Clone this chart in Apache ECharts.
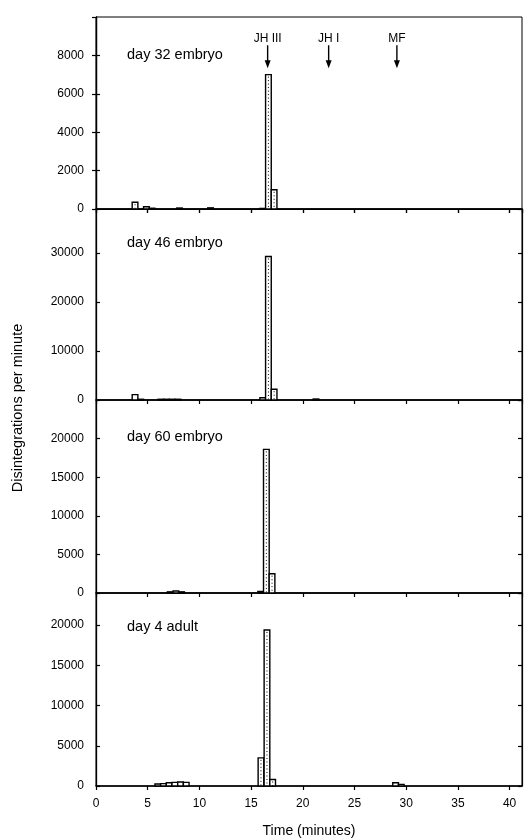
<!DOCTYPE html>
<html>
<head>
<meta charset="utf-8">
<script src="https://cdn.jsdelivr.net/npm/echarts@6/dist/echarts.min.js"></script>
<style>
html,body{margin:0;padding:0;background:#fff;}
#chart{width:524px;height:839px;}
</style>
</head>
<body>
<div id="chart"></div>
<script>
// ---- data (time bins start, minutes; disintegrations per minute) ----
const binWidth = 0.55;
const panelTitles = ['day 32 embryo', 'day 46 embryo', 'day 60 embryo', 'day 4 adult'];
const yMaxes = [10000, 39000, 25000, 24000];
const yIntervals = [2000, 10000, 5000, 5000];

const day32Starts = [3.5, 4.6, 5.15, 7.8, 10.8, 15.85, 16.4, 16.95];
const day32Values = [350, 120, 40, 50, 60, 30, 7000, 1000];

const day46Starts = [3.5, 4.05, 6.0, 6.55, 7.1, 7.65, 15.85, 16.4, 16.95, 21.0];
const day46Values = [1100, 150, 150, 150, 150, 150, 450, 29300, 2200, 200];

const day60Starts = [6.9, 7.45, 8.0, 15.65, 16.2, 16.75];
const day60Values = [150, 250, 150, 200, 18600, 2500];

const day4Starts = [5.7, 6.25, 6.8, 7.35, 7.9, 8.45, 15.68, 16.26, 16.81, 28.7, 29.25];
const day4Values = [250, 300, 400, 450, 500, 450, 3500, 19400, 800, 400, 200];

const arrowTimes = [16.6, 22.5, 29.1];
const arrowTips = [7330, 7330, 7330];
const arrowLabels = ['JH III', 'JH I', 'MF'];

const xMin = 0, xMax = 41.2, xInterval = 5;
// ---------------------------------------------------------------------

const allStarts = [day32Starts, day46Starts, day60Starts, day4Starts];
const allValues = [day32Values, day46Values, day60Values, day4Values];

const FONT = 'Liberation Sans, Arial, sans-serif';
const gridTops = [17, 209, 400, 593];
const gridHeights = [192, 191, 193, 193];

const grids = gridTops.map((t, i) => ({
  left: 96, width: 426, top: t, height: gridHeights[i],
  show: true, borderColor: '#000', borderWidth: 1, backgroundColor: 'transparent'
}));

const plain = v => String(v);

const xAxes = [];
const yAxes = [];
for (let i = 0; i < 4; i++) {
  const isBottom = i === 3;
  xAxes.push({
    type: 'value', gridIndex: i, min: xMin, max: xMax, interval: xInterval,
    position: 'bottom',
    axisLine: { show: true, lineStyle: { color: '#000', width: 1.6 } },
    axisTick: { show: true, inside: false, length: 4, lineStyle: { color: '#000', width: 1.2 } },
    splitLine: { show: false },
    axisLabel: { show: isBottom, showMaxLabel: false, formatter: plain, color: '#000', fontSize: 12, fontFamily: FONT, margin: 12 },
    name: isBottom ? 'Time (minutes)' : '',
    nameLocation: 'middle', nameGap: 38,
    nameTextStyle: { color: '#000', fontSize: 14, fontFamily: FONT }
  });
}
// top frame axis for first panel
xAxes.push({
  type: 'value', gridIndex: 0, min: xMin, max: xMax, interval: xInterval, position: 'top',
  axisLine: { show: true, lineStyle: { color: '#000', width: 1.2 } },
  axisTick: { show: true, inside: true, length: 4, lineStyle: { color: '#000', width: 1.2 } },
  axisLabel: { show: false }, splitLine: { show: false }
});
for (let i = 0; i < 4; i++) {
  yAxes.push({
    type: 'value', gridIndex: i, min: 0, max: yMaxes[i], interval: yIntervals[i], position: 'left',
    axisLine: { show: true, lineStyle: { color: '#000', width: 1.3 } },
    axisTick: { show: true, inside: true, length: 4, lineStyle: { color: '#000', width: 1.2 } },
    splitLine: { show: false },
    axisLabel: { color: '#000', fontSize: 12, fontFamily: FONT, margin: 12, showMaxLabel: false, formatter: plain }
  });
}
for (let i = 0; i < 4; i++) {
  yAxes.push({
    type: 'value', gridIndex: i, min: 0, max: yMaxes[i], interval: yIntervals[i], position: 'right',
    axisLine: { show: true, lineStyle: { color: '#000', width: 1.2 } },
    axisTick: { show: true, inside: true, length: 4, lineStyle: { color: '#000', width: 1.2 } },
    splitLine: { show: false }, axisLabel: { show: false }
  });
}

function renderBar(params, api) {
  const s = api.value(0), v = api.value(1);
  const p0 = api.coord([s, 0]);
  const p1 = api.coord([s + binWidth, v]);
  const x = p0[0], y = p1[1], w = p1[0] - p0[0], h = p0[1] - p1[1];
  const children = [{
    type: 'rect', shape: { x: x, y: y, width: w, height: h },
    style: { fill: '#fff', stroke: '#000', lineWidth: 1.4 }
  }];
  if (h > 6) {
    children.push({
      type: 'line', shape: { x1: x + w / 2, y1: y + 2, x2: x + w / 2, y2: y + h },
      style: { stroke: '#000', lineWidth: 1, lineDash: [1, 2.5] }
    });
  }
  return { type: 'group', children: children };
}

function renderArrow(params, api) {
  const tip = api.coord([api.value(0), api.value(1)]);
  const x = tip[0], y = tip[1];
  return {
    type: 'group',
    children: [
      { type: 'line', shape: { x1: x, y1: y - 23, x2: x, y2: y - 6 }, style: { stroke: '#000', lineWidth: 1.4 } },
      { type: 'polygon', shape: { points: [[x - 3, y - 8], [x + 3, y - 8], [x, y]] }, style: { fill: '#000' } },
      { type: 'text', x: x, y: y - 30, style: { text: arrowLabels[params.dataIndex], textAlign: 'center', textVerticalAlign: 'middle', fill: '#000', font: '12px ' + FONT } }
    ]
  };
}

const series = [];
for (let i = 0; i < 4; i++) {
  series.push({
    type: 'custom', xAxisIndex: i, yAxisIndex: i,
    renderItem: renderBar,
    encode: { x: 0, y: 1 },
    data: allStarts[i].map((s, k) => [s, allValues[i][k]]),
    z: 3
  });
}
series.push({
  type: 'custom', xAxisIndex: 0, yAxisIndex: 0,
  renderItem: renderArrow,
  encode: { x: 0, y: 1 },
  data: arrowTimes.map((t, k) => [t, arrowTips[k]]),
  z: 4
});

const titles = panelTitles.map((t, i) => ({
  text: t, left: 122, top: [42, 230, 424, 614][i],
  textStyle: { color: '#000', fontSize: 14.5, fontWeight: 'normal', fontFamily: FONT }
}));

const chart = echarts.init(document.getElementById('chart'), null, { renderer: 'canvas' });
chart.setOption({
  animation: false,
  backgroundColor: '#fff',
  title: titles,
  grid: grids,
  xAxis: xAxes,
  yAxis: yAxes,
  series: series,
  graphic: [{
    type: 'text', rotation: Math.PI / 2,
    x: 18, y: 408,
    style: { text: 'Disintegrations per minute', fill: '#000', font: '14.5px ' + FONT, textAlign: 'center', textVerticalAlign: 'middle' }
  }]
});
</script>
</body>
</html>
